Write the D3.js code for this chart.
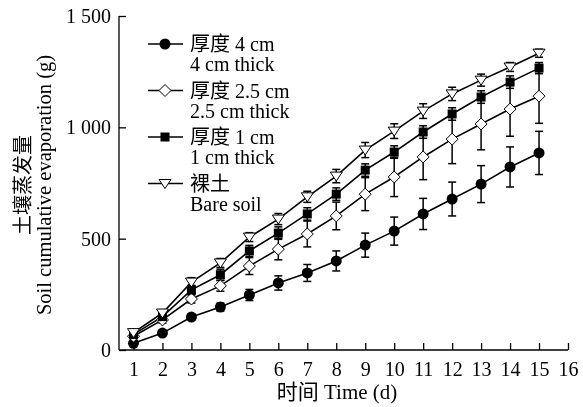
<!DOCTYPE html>
<html><head><meta charset="utf-8">
<script src="https://cdn.jsdelivr.net/npm/d3@7"></script>
<style>
body{margin:0;background:#fff;-webkit-font-smoothing:antialiased;}
svg{will-change:transform;}
text{font-family:"Liberation Serif","Noto Sans CJK SC",serif;fill:#000;}
</style></head>
<body>
<svg id="c" width="583" height="407"></svg>
<script>
const days = [1,2,3,4,5,6,7,8,9,10,11,12,13,14,15];
const xTicks = [1,2,3,4,5,6,7,8,9,10,11,12,13,14,15,16];
const yTicks = [0,500,1000,1500];
const yTickLabels = ["0","500","1 000","1 500"];

const cm4 = [30,76,148,193,247,301,346,400,471,534,611,678,745,822,885];
const cm4Err = [8,10,12,18,25,32,38,45,54,63,70,76,83,90,97];
const cm25 = [62,135,229,288,377,453,521,602,700,777,867,947,1015,1082,1140];
const cm25Err = [10,14,18,24,38,48,58,62,74,88,102,110,116,122,122];
const cm1 = [70,150,270,338,445,525,611,700,808,889,979,1060,1136,1203,1266];
const cm1Err = [15,15,20,25,25,28,28,28,28,28,28,28,28,28,25];
const bare = [78,166,305,391,507,588,688,781,898,983,1073,1150,1212,1271,1333];
const bareErr = [15,15,20,20,20,25,25,30,34,33,33,30,27,20,18];

const seriesNames = ["厚度 4 cm","厚度 2.5 cm","厚度 1 cm","裸土"];
const seriesNamesEn = ["4 cm thick","2.5 cm thick","1 cm thick","Bare soil"];
const seriesVals = [cm4, cm25, cm1, bare];
const seriesErrs = [cm4Err, cm25Err, cm1Err, bareErr];
const seriesMarkers = ["circle","diamond","square","triangle"];

const svg = d3.select("#c");
const x = d3.scaleLinear().domain([0.5,16]).range([119,568]);
const y = d3.scaleLinear().domain([0,1500]).range([350,16]);

// axes
const xAxis = d3.axisBottom(x).tickValues(xTicks).tickSizeInner(-7).tickSizeOuter(0).tickPadding(12).tickFormat(d3.format("d"));
const gx = svg.append("g").attr("transform","translate(0,350)").call(xAxis);
const yAxis = d3.axisLeft(y).tickValues(yTicks).tickSizeInner(-7).tickSizeOuter(0).tickPadding(8).tickFormat((d,i)=>yTickLabels[i]);
const gy = svg.append("g").attr("transform","translate(119,0)").call(yAxis);
[gx,gy].forEach(g=>{
  g.select(".domain").attr("stroke","#000").attr("stroke-width",1.3);
  g.selectAll(".tick line").attr("stroke","#000").attr("stroke-width",1.3);
  g.selectAll(".tick text").style("font-family","Liberation Serif").style("font-size","20px").attr("fill","#000");
});
gx.select(".domain").attr("d","M119,0H568");
gy.select(".domain").attr("d","M0,350V16");

// axis titles
svg.append("text").attr("x",337).attr("y",399).attr("text-anchor","middle").attr("fill","#000")
  .style("font-size","21px").text("时间 Time (d)");
svg.append("text").attr("transform","translate(30,185) rotate(-90)").attr("text-anchor","middle").attr("fill","#000")
  .style("font-size","20px").text("土壤蒸发量");
svg.append("text").attr("transform","translate(51,185) rotate(-90)").attr("text-anchor","middle").attr("fill","#000")
  .style("font-size","20.5px").text("Soil cumulative evaporation (g)");

function drawMarker(g, type, cx, cy){
  if(type==="circle") g.append("circle").attr("cx",cx).attr("cy",cy).attr("r",5.5).attr("fill","#000");
  else if(type==="square") g.append("rect").attr("x",cx-4.5).attr("y",cy-4.5).attr("width",9).attr("height",9).attr("fill","#000");
  else if(type==="diamond") g.append("path").attr("d",`M${cx},${cy-6}L${cx+6},${cy}L${cx},${cy+6}L${cx-6},${cy}Z`).attr("fill","#fff").attr("stroke","#000").attr("stroke-width",1);
  else if(type==="triangle") g.append("path").attr("d",`M${cx-6},${cy-4}L${cx+6},${cy-4}L${cx},${cy+5}Z`).attr("fill","#fff").attr("stroke","#000").attr("stroke-width",1);
}

const line = d3.line().x((d,i)=>x(days[i])).y(d=>y(d));
const plot = svg.append("g");
seriesVals.forEach((vals)=>{
  plot.append("path").datum(vals).attr("d",line).attr("fill","none").attr("stroke","#000").attr("stroke-width",1.6);
});
seriesVals.forEach((vals,s)=>{
  const errs = seriesErrs[s];
  vals.forEach((v,i)=>{
    const cx = x(days[i]);
    const t = y(v+errs[i]), b = y(v-errs[i]);
    plot.append("line").attr("x1",cx).attr("x2",cx).attr("y1",t).attr("y2",b).attr("stroke","#000").attr("stroke-width",1.5);
    plot.append("line").attr("x1",cx-4).attr("x2",cx+4).attr("y1",t).attr("y2",t).attr("stroke","#000").attr("stroke-width",1.5);
    plot.append("line").attr("x1",cx-4).attr("x2",cx+4).attr("y1",b).attr("y2",b).attr("stroke","#000").attr("stroke-width",1.5);
  });
});
seriesVals.forEach((vals,s)=>{
  vals.forEach((v,i)=>drawMarker(plot, seriesMarkers[s], x(days[i]), y(v)));
});

// legend
const leg = svg.append("g");
seriesNames.forEach((name,s)=>{
  const yy = 44 + s*46.5;
  leg.append("line").attr("x1",148).attr("x2",183).attr("y1",yy).attr("y2",yy).attr("stroke","#000").attr("stroke-width",1.5);
  drawMarker(leg, seriesMarkers[s], 165, yy);
  leg.append("text").attr("x",190).attr("y",yy+7).attr("fill","#000").style("font-size","20px").text(name);
  leg.append("text").attr("x",190).attr("y",yy+27).attr("fill","#000").style("font-size","20px").text(seriesNamesEn[s]);
});
</script>
</body></html>
